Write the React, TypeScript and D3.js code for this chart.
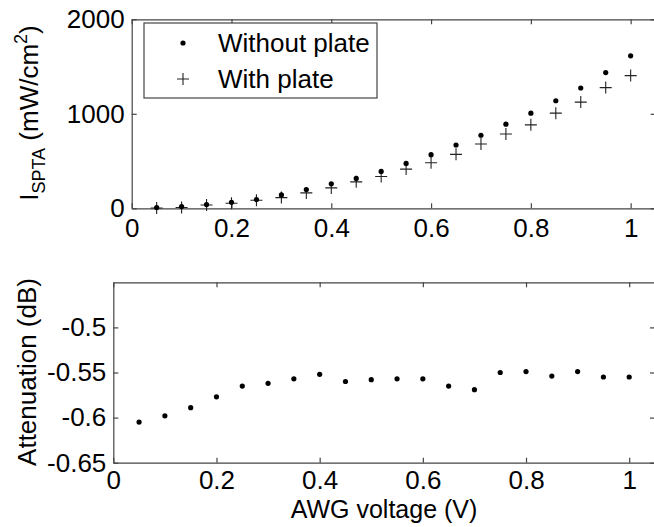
import React, { useEffect, useRef } from 'react';
import * as d3 from 'd3';

// AWG drive voltage (V)
const voltages = [0.05, 0.1, 0.15, 0.2, 0.25, 0.3, 0.35, 0.4, 0.45, 0.5, 0.55, 0.6, 0.65, 0.7, 0.75, 0.8, 0.85, 0.9, 0.95, 1.0];

// I_SPTA (mW/cm^2)
const withoutPlate = [8, 18, 39, 64, 92, 142, 199, 259, 316, 390, 475, 567, 670, 773, 890, 1007, 1138, 1273, 1436, 1613];
const withPlate = [3, 8, 35, 53, 85, 113, 163, 216, 280, 337, 415, 482, 571, 681, 787, 883, 1007, 1124, 1277, 1404];

// attenuation (dB)
const attenuation = [-0.605, -0.598, -0.589, -0.577, -0.565, -0.562, -0.557, -0.552, -0.56, -0.558, -0.557, -0.557, -0.565, -0.569, -0.55, -0.549, -0.554, -0.549, -0.555, -0.555];

const xTicks = [0, 0.2, 0.4, 0.6, 0.8, 1];
const topYTicks = [0, 1000, 2000];
const bottomYTicks = [-0.65, -0.6, -0.55, -0.5];

const legendItems = [
  { label: 'Without plate', marker: 'dot' },
  { label: 'With plate', marker: 'plus' },
];

const FONT = '"Liberation Sans", Arial, Helvetica, sans-serif';
const FS = 26;
const AXIS_COLOR = '#444';

export default function App() {
  const svgRef = useRef<SVGSVGElement>(null);

  useEffect(() => {
    const width = 654;
    const height = 527;
    const svg = d3.select(svgRef.current).attr('width', width).attr('height', height);
    svg.selectAll('*').remove();

    const fmt = (d: number) => String(d);

    // draws a MATLAB style boxed axes with inward ticks
    const drawBox = (x: d3.ScaleLinear<number, number>, y: d3.ScaleLinear<number, number>, yTicks: number[], pad: number) => {
      const [x0, x1] = x.range();
      const [y0, y1] = y.range();
      const g = svg.append('g');

      const style = (sel: d3.Selection<SVGGElement, unknown, null, undefined>) => {
        sel.selectAll('path').attr('stroke', AXIS_COLOR).attr('stroke-width', 1.2);
        sel.selectAll('line').attr('stroke', AXIS_COLOR).attr('stroke-width', 1.2);
        sel.selectAll('text').attr('fill', '#000').attr('font-family', FONT).attr('font-size', FS);
        sel.attr('font-family', null).attr('font-size', null);
      };

      g.append('g')
        .attr('transform', `translate(0,${y0})`)
        .call(d3.axisBottom(x).tickValues(xTicks).tickFormat(fmt as any).tickSizeInner(-5).tickSizeOuter(0).tickPadding(pad))
        .call(style);
      g.append('g')
        .attr('transform', `translate(0,${y1})`)
        .call(d3.axisTop(x).tickValues(xTicks).tickFormat(() => '').tickSizeInner(-5).tickSizeOuter(0))
        .call(style);
      g.append('g')
        .attr('transform', `translate(${x0},0)`)
        .call(d3.axisLeft(y).tickValues(yTicks).tickFormat(fmt as any).tickSizeInner(-5).tickSizeOuter(0).tickPadding(7))
        .call(style);
      g.append('g')
        .attr('transform', `translate(${x1},0)`)
        .call(d3.axisRight(y).tickValues(yTicks).tickFormat(() => '').tickSizeInner(-5).tickSizeOuter(0))
        .call(style);
    };

    const drawDot = (sel: any, cx: number, cy: number) =>
      sel.append('circle').attr('cx', cx).attr('cy', cy).attr('r', 2.6).attr('fill', '#000');

    const drawPlus = (sel: any, cx: number, cy: number) =>
      sel.append('path')
        .attr('d', `M${cx - 6},${cy}H${cx + 6}M${cx},${cy - 6}V${cy + 6}`)
        .attr('stroke', '#222')
        .attr('stroke-width', 1.1)
        .attr('fill', 'none');

    // ---- top panel ----
    const xTop = d3.scaleLinear().domain([0, 1.05]).range([131.7, 655.6]);
    const yTop = d3.scaleLinear().domain([0, 2000]).range([208.3, 19.3]);
    drawBox(xTop, yTop, topYTicks, 10);

    const pts = svg.append('g');
    voltages.forEach((v, i) => {
      drawPlus(pts, xTop(v), yTop(withPlate[i]));
      drawDot(pts, xTop(v), yTop(withoutPlate[i]));
    });

    // legend
    const leg = svg.append('g');
    leg.append('rect')
      .attr('x', 144).attr('y', 23).attr('width', 233).attr('height', 75)
      .attr('fill', '#fff').attr('stroke', AXIS_COLOR).attr('stroke-width', 1.2);
    legendItems.forEach((item, i) => {
      const cy = 43 + i * 36;
      if (item.marker === 'dot') drawDot(leg, 183, cy);
      else drawPlus(leg, 183, cy);
      leg.append('text')
        .attr('x', 218).attr('y', cy + 9)
        .attr('font-family', FONT).attr('font-size', FS)
        .text(item.label);
    });

    // y label top
    const yl = svg.append('text')
      .attr('transform', 'translate(38,113) rotate(-90)')
      .attr('text-anchor', 'middle')
      .attr('font-family', FONT).attr('font-size', FS);
    yl.append('tspan').text('I');
    yl.append('tspan').attr('font-size', 18).attr('dy', 7).text('SPTA');
    yl.append('tspan').attr('dy', -7).text(' (mW/cm');
    yl.append('tspan').attr('font-size', 18).attr('dy', -11).text('2');
    yl.append('tspan').attr('dy', 11).text(')');

    // ---- bottom panel ----
    const xBot = d3.scaleLinear().domain([0, 1.05]).range([113.3, 655]);
    const yBot = d3.scaleLinear().domain([-0.65, -0.45]).range([462.7, 282.3]);
    drawBox(xBot, yBot, bottomYTicks, 8);

    const pts2 = svg.append('g');
    voltages.forEach((v, i) => drawDot(pts2, xBot(v), yBot(attenuation[i])));

    svg.append('text')
      .attr('transform', 'translate(36,372) rotate(-90)')
      .attr('text-anchor', 'middle')
      .attr('font-family', FONT).attr('font-size', FS)
      .text('Attenuation (dB)');

    svg.append('text')
      .attr('x', 384).attr('y', 518)
      .attr('text-anchor', 'middle')
      .attr('font-family', FONT).attr('font-size', 25)
      .text('AWG voltage (V)');
  }, []);

  return (
    <svg
      ref={svgRef}
      style={{ position: 'absolute', left: 0, top: 0, display: 'block', background: '#fff' }}
    />
  );
}
